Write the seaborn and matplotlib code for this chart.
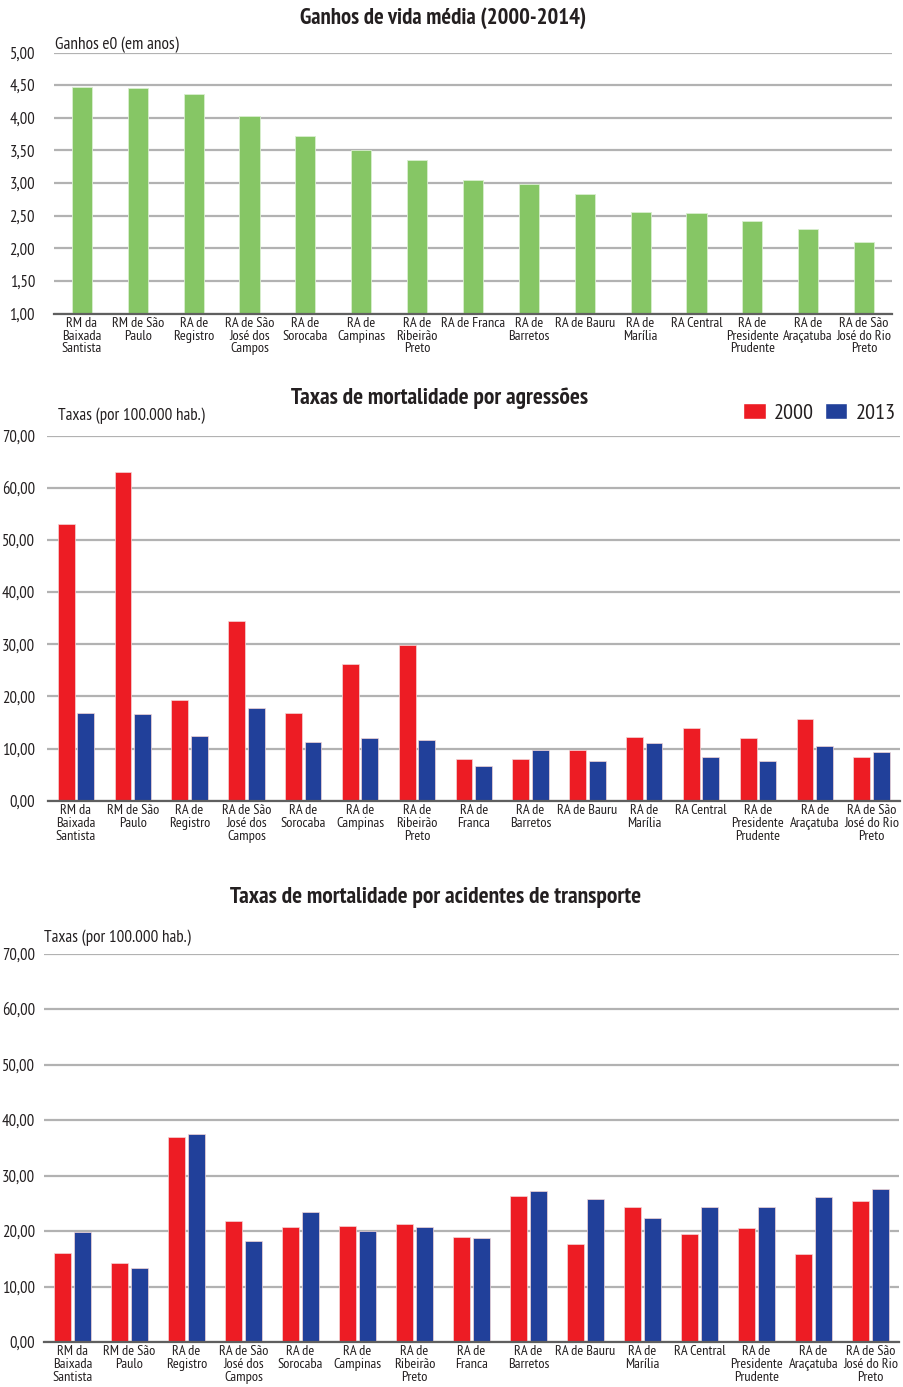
import matplotlib
matplotlib.use("Agg")
import matplotlib.pyplot as plt
from matplotlib import font_manager as fm
from matplotlib.patches import Patch
from matplotlib.ticker import FuncFormatter, MultipleLocator
import pandas as pd
import seaborn as sns

# Regiões do Estado de São Paulo
regioes = [
    "RM da Baixada Santista", "RM de São Paulo", "RA de Registro",
    "RA de São José dos Campos", "RA de Sorocaba", "RA de Campinas",
    "RA de Ribeirão Preto", "RA de Franca", "RA de Barretos", "RA de Bauru",
    "RA de Marília", "RA Central", "RA de Presidente Prudente",
    "RA de Araçatuba", "RA de São José do Rio Preto",
]

# Ganhos de esperança de vida ao nascer, 2000-2014 (anos)
ganhos_e0 = [4.47, 4.45, 4.36, 4.02, 3.72, 3.51, 3.36, 3.05, 2.99, 2.83,
             2.55, 2.54, 2.42, 2.30, 2.09]

# Taxas de mortalidade por agressões (por 100.000 hab.)
agressoes_2000 = [53.0, 63.0, 19.3, 34.4, 16.8, 26.3, 29.9, 8.0, 8.0, 9.7,
                  12.2, 13.9, 12.0, 15.6, 8.3]
agressoes_2013 = [16.9, 16.6, 12.5, 17.7, 11.3, 12.0, 11.6, 6.6, 9.8, 7.7,
                  11.1, 8.4, 7.7, 10.4, 9.3]

# Taxas de mortalidade por acidentes de transporte (por 100.000 hab.)
transporte_2000 = [16.1, 14.2, 36.9, 21.8, 20.7, 20.9, 21.2, 18.9, 26.3, 17.7,
                   24.3, 19.5, 20.5, 15.9, 25.4]
transporte_2013 = [19.9, 13.3, 37.5, 18.2, 23.5, 20.1, 20.7, 18.8, 27.3, 25.8,
                   22.4, 24.4, 24.3, 26.1, 27.6]

anos = ["2000", "2013"]

rotulos_ganhos = [
    "RM da\nBaixada\nSantista", "RM de São\nPaulo", "RA de\nRegistro",
    "RA de São\nJosé dos\nCampos", "RA de\nSorocaba", "RA de\nCampinas",
    "RA de\nRibeirão\nPreto", "RA de Franca", "RA de\nBarretos", "RA de Bauru",
    "RA de\nMarília", "RA Central", "RA de\nPresidente\nPrudente",
    "RA de\nAraçatuba", "RA de São\nJosé do Rio\nPreto",
]
rotulos_taxas = [
    "RM da\nBaixada\nSantista", "RM de São\nPaulo", "RA de\nRegistro",
    "RA de São\nJosé dos\nCampos", "RA de\nSorocaba", "RA de\nCampinas",
    "RA de\nRibeirão\nPreto", "RA de\nFranca", "RA de\nBarretos", "RA de Bauru",
    "RA de\nMarília", "RA Central", "RA de\nPresidente\nPrudente",
    "RA de\nAraçatuba", "RA de São\nJosé do Rio\nPreto",
]

VERDE = "#86c665"
VERMELHO = "#ed1c24"
AZUL = "#21409a"
GRADE = "#b2b2b2"
BASE = "#5f5f5f"
TEXTO = "#231f20"

# Família estreita (tipo Arial Narrow), com variante negrito se houver
pesos = {}
for f in fm.fontManager.ttflist:
    w = f.weight if isinstance(f.weight, int) else 400
    pesos.setdefault(f.name, set()).add(w)
preferidas = ["Liberation Sans Narrow", "Arial Narrow", "PT Sans Narrow",
              "Roboto Condensed", "Archivo Narrow", "Open Sans Condensed",
              "Sofia Sans Semi Condensed"]
FONTE = next((n for n in preferidas if n in pesos and max(pesos[n]) >= 700),
             next((n for n in preferidas if n in pesos), "DejaVu Sans"))
ESCALA = 0.8 if FONTE == "DejaVu Sans" else 1.0

W, H = 904, 1387
sns.set_theme(style="white")
plt.rcParams["font.family"] = [FONTE, "DejaVu Sans"]
plt.rcParams["text.color"] = TEXTO

fig = plt.figure(figsize=(W / 100, H / 100), dpi=100)


def eixo_px(esq, topo, dir_, base):
    return fig.add_axes([esq / W, 1 - base / H, (dir_ - esq) / W, (base - topo) / H])


virgula = FuncFormatter(lambda v, _: f"{v:.2f}".replace(".", ","))


def estilo(ax, rotulos, ymin, ymax, passo, pad_y):
    ax.set_ylim(ymin, ymax)
    ax.set_xlim(-0.5, len(rotulos) - 0.5)
    ax.yaxis.set_major_locator(MultipleLocator(passo))
    ax.yaxis.set_major_formatter(virgula)
    ax.set_axisbelow(True)
    ax.yaxis.grid(True, color=GRADE, linewidth=1.6)
    ax.xaxis.grid(False)
    for lado in ("top", "right", "left"):
        ax.spines[lado].set_visible(False)
    ax.spines["bottom"].set_color(BASE)
    ax.spines["bottom"].set_linewidth(1.6)
    ax.set_xticks(range(len(rotulos)))
    ax.set_xticklabels(rotulos, fontsize=10.4 * ESCALA, linespacing=0.97,
                       color=TEXTO)
    ax.tick_params(axis="x", length=0, pad=2.5)
    ax.tick_params(axis="y", length=0, pad=pad_y * 0.72, labelsize=12 * ESCALA,
                   labelcolor=TEXTO)
    ax.set_xlabel("")
    ax.set_ylabel("")


# --- Ganhos de vida média ---
ax1 = eixo_px(54, 52.5, 892, 313.5)
df_ganhos = pd.DataFrame({"regiao": regioes, "ganho": ganhos_e0})
sns.barplot(data=df_ganhos, x="regiao", y="ganho", order=regioes, color=VERDE,
            saturation=1, width=0.36, edgecolor="#d9eecf", linewidth=0.6, ax=ax1)
estilo(ax1, rotulos_ganhos, 1.0, 5.0, 0.5, 19)
fig.text(443 / W, 1 - 18 / H, "Ganhos de vida média (2000-2014)", ha="center",
         va="center", fontsize=16.3 * ESCALA, fontweight="bold")
fig.text(55 / W, 1 - 45 / H, "Ganhos e0 (em anos)", ha="left", va="center",
         fontsize=12.4 * ESCALA)


def grafico_taxas(ax, v2000, v2013):
    df = pd.DataFrame({
        "regiao": regioes * 2,
        "ano": [anos[0]] * len(regioes) + [anos[1]] * len(regioes),
        "taxa": list(v2000) + list(v2013),
    })
    sns.barplot(data=df, x="regiao", y="taxa", hue="ano", order=regioes,
                hue_order=anos, palette={anos[0]: VERMELHO, anos[1]: AZUL},
                saturation=1, width=0.69, gap=0.14, edgecolor="#f4d6d6",
                linewidth=0.5, legend=False, ax=ax)


# --- Agressões ---
ax2 = eixo_px(47.5, 435.7, 900, 800.7)
grafico_taxas(ax2, agressoes_2000, agressoes_2013)
estilo(ax2, rotulos_taxas, 0, 70, 10, 12.5)
fig.text(440 / W, 1 - 398 / H, "Taxas de mortalidade por agressões",
         ha="center", va="center", fontsize=16.8 * ESCALA, fontweight="bold")
fig.text(58 / W, 1 - 416 / H, "Taxas (por 100.000 hab.)", ha="left",
         va="center", fontsize=12.3 * ESCALA)
fig.legend(handles=[Patch(facecolor=VERMELHO), Patch(facecolor=AZUL)],
           labels=anos, ncol=2, frameon=False, fontsize=16 * ESCALA,
           loc="upper right", bbox_to_anchor=(896 / W, 1 - 403 / H),
           handlelength=1.0, handleheight=0.73, handletextpad=0.38,
           columnspacing=0.5, borderaxespad=0, borderpad=0)

# --- Acidentes de transporte ---
ax3 = eixo_px(44, 953.7, 899, 1342)
grafico_taxas(ax3, transporte_2000, transporte_2013)
estilo(ax3, rotulos_taxas, 0, 70, 10, 9)
fig.text(436 / W, 1 - 898 / H, "Taxas de mortalidade por acidentes de transporte",
         ha="center", va="center", fontsize=16.8 * ESCALA, fontweight="bold")
fig.text(44 / W, 1 - 938 / H, "Taxas (por 100.000 hab.)", ha="left",
         va="center", fontsize=12.3 * ESCALA)

fig.savefig("out.png", dpi=100, facecolor="white")
